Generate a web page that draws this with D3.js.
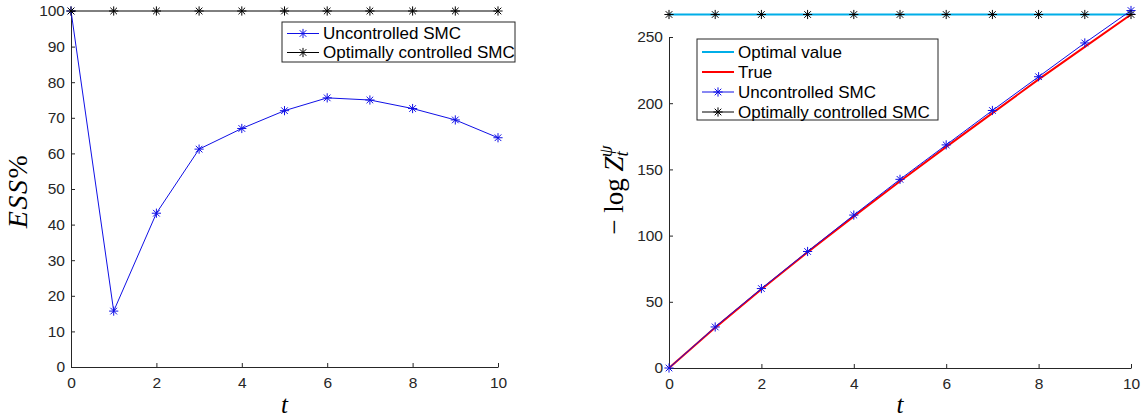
<!DOCTYPE html>
<html>
<head>
<meta charset="utf-8">
<script src="https://cdn.jsdelivr.net/npm/d3@7"></script>
<style>
  html, body { margin: 0; padding: 0; background: #fff; }
  svg { display: block; }
  .tick text { font-family: "Liberation Sans", Arial, sans-serif; font-size: 15.5px; fill: #262626; }
  .legend text { font-family: "Liberation Sans", Arial, sans-serif; font-size: 17px; fill: #000; }
  .mathlabel { font-family: "Liberation Serif", "DejaVu Serif", serif; fill: #000; }
</style>
</head>
<body>
<script>
// Time steps
const tSteps = [0, 1, 2, 3, 4, 5, 6, 7, 8, 9, 10];

// ESS% per time step
const essUncontrolled = [100, 15.7, 43.2, 61.2, 67.0, 72.0, 75.6, 75.0, 72.6, 69.4, 64.4];
const essOptimal      = [100, 100, 100, 100, 100, 100, 100, 100, 100, 100, 100];

// -log Z estimates per time step
const logzOptimalValue = [267, 267, 267, 267, 267, 267, 267, 267, 267, 267, 267];
const logzTrue         = [0, 30.5, 59.5, 87.5, 114.5, 141, 167, 192.5, 218, 242.5, 267];
const logzUncontrolled = [0, 31, 60, 88, 115.5, 142.5, 168.5, 194.5, 220, 245.5, 270];
const logzOptimalSMC   = [267, 267, 267, 267, 267, 267, 267, 267, 267, 267, 267];

// Tick values
const xTicks = [0, 2, 4, 6, 8, 10];
const essTicks = [0, 10, 20, 30, 40, 50, 60, 70, 80, 90, 100];
const logzTicks = [0, 50, 100, 150, 200, 250];

const W = 1146, H = 420;
const svg = d3.select("body").append("svg").attr("width", W).attr("height", H);
svg.append("rect").attr("width", W).attr("height", H).attr("fill", "#fff");

const AXIS_COLOR = "#262626";
const BLUE = "#1010e6", BLACK = "#000", CYAN = "#00aee8", RED = "#ff0000";

// asterisk marker (MATLAB '*')
function asterisk(g, cx, cy, color) {
  const r = 4.6, d = r * 0.72;
  const p = `M${cx - r},${cy}L${cx + r},${cy}M${cx},${cy - r}L${cx},${cy + r}` +
            `M${cx - d},${cy - d}L${cx + d},${cy + d}M${cx - d},${cy + d}L${cx + d},${cy - d}`;
  g.append("path").attr("d", p).attr("stroke", color).attr("stroke-width", 1).attr("fill", "none");
}

function drawAxes(g, x, y, yTicks) {
  const ax = g.append("g").attr("transform", `translate(0,${y.range()[0]})`)
    .call(d3.axisBottom(x).tickValues(xTicks).tickFormat(d3.format("d"))
      .tickSizeInner(-4).tickSizeOuter(0).tickPadding(10));
  const ay = g.append("g").attr("transform", `translate(${x.range()[0]},0)`)
    .call(d3.axisLeft(y).tickValues(yTicks).tickFormat(d3.format("d"))
      .tickSizeInner(-4).tickSizeOuter(0).tickPadding(6));
  [ax, ay].forEach(a => {
    a.select(".domain").attr("stroke", AXIS_COLOR);
    a.selectAll(".tick line").attr("stroke", AXIS_COLOR);
  });
}

function drawLine(g, x, y, values, color, width) {
  const line = d3.line().x((d, i) => x(tSteps[i])).y(d => y(d));
  g.append("path").datum(values).attr("d", line)
    .attr("fill", "none").attr("stroke", color).attr("stroke-width", width);
}
function drawMarkers(g, x, y, values, color) {
  values.forEach((v, i) => asterisk(g, x(tSteps[i]), y(v), color));
}

function drawLegend(g, box, entries) {
  const lg = g.append("g").attr("class", "legend");
  lg.append("rect").attr("x", box.x).attr("y", box.y).attr("width", box.w).attr("height", box.h)
    .attr("fill", "#fff").attr("stroke", AXIS_COLOR).attr("stroke-width", 1);
  entries.forEach((e, i) => {
    const yy = box.y + box.row0 + i * box.step;
    lg.append("line").attr("x1", box.x + 5).attr("x2", box.x + 37).attr("y1", yy).attr("y2", yy)
      .attr("stroke", e.color).attr("stroke-width", e.width);
    if (e.marker) asterisk(lg, box.x + 21, yy, e.color);
    lg.append("text").attr("x", box.x + 41).attr("y", yy).attr("dy", "0.35em").text(e.label);
  });
}

// ---- Left panel: ESS% ----
{
  const g = svg.append("g");
  const x = d3.scaleLinear().domain([0, 10]).range([71, 498]);
  const y = d3.scaleLinear().domain([0, 100]).range([367, 11]);
  drawAxes(g, x, y, essTicks);
  drawLine(g, x, y, essUncontrolled, BLUE, 1);
  drawMarkers(g, x, y, essUncontrolled, BLUE);
  drawLine(g, x, y, essOptimal, BLACK, 1);
  drawMarkers(g, x, y, essOptimal, BLACK);
  drawLegend(g, { x: 282, y: 22, w: 233, h: 40, row0: 11.5, step: 19 }, [
    { label: "Uncontrolled SMC", color: BLUE, width: 1, marker: true },
    { label: "Optimally controlled SMC", color: BLACK, width: 1, marker: true }
  ]);
  g.append("text").attr("class", "mathlabel")
    .attr("x", x(5)).attr("y", 413).attr("text-anchor", "middle")
    .attr("font-size", 25).attr("font-style", "italic").text("t");
  const yl = g.append("text").attr("class", "mathlabel")
    .attr("transform", "translate(27,191) rotate(-90)")
    .attr("text-anchor", "middle").attr("font-size", 28)
    .attr("letter-spacing", 1.5);
  yl.append("tspan").attr("font-style", "italic").text("ESS");
  yl.append("tspan").text("%");
}

// ---- Right panel: -log Z ----
{
  const g = svg.append("g");
  const x = d3.scaleLinear().domain([0, 10]).range([669, 1131]);
  const y = d3.scaleLinear().domain([0, 250]).range([368, 37]);
  drawAxes(g, x, y, logzTicks);
  drawLine(g, x, y, logzOptimalSMC, BLACK, 1);
  drawLine(g, x, y, logzOptimalValue, CYAN, 2);
  drawLine(g, x, y, logzTrue, RED, 2);
  drawLine(g, x, y, logzUncontrolled, BLUE, 1);
  drawMarkers(g, x, y, logzUncontrolled, BLUE);
  drawMarkers(g, x, y, logzOptimalSMC, BLACK);
  drawLegend(g, { x: 697, y: 39, w: 241, h: 81, row0: 13, step: 20 }, [
    { label: "Optimal value", color: CYAN, width: 2, marker: false },
    { label: "True", color: RED, width: 2, marker: false },
    { label: "Uncontrolled SMC", color: BLUE, width: 1, marker: true },
    { label: "Optimally controlled SMC", color: BLACK, width: 1, marker: true }
  ]);
  g.append("text").attr("class", "mathlabel")
    .attr("x", x(5)).attr("y", 413).attr("text-anchor", "middle")
    .attr("font-size", 25).attr("font-style", "italic").text("t");
  const yl = g.append("text").attr("class", "mathlabel")
    .attr("transform", "translate(623,190) rotate(-90)")
    .attr("text-anchor", "middle").attr("font-size", 27);
  yl.append("tspan").text("\u2212 log ");
  yl.append("tspan").attr("font-style", "italic").text("Z");
  yl.append("tspan").attr("font-style", "italic").attr("font-size", 19).attr("dy", 5).text("t");
  yl.append("tspan").attr("font-style", "italic").attr("font-size", 19).attr("dx", -6).attr("dy", -16).text("\u03c8");
}
</script>
</body>
</html>
